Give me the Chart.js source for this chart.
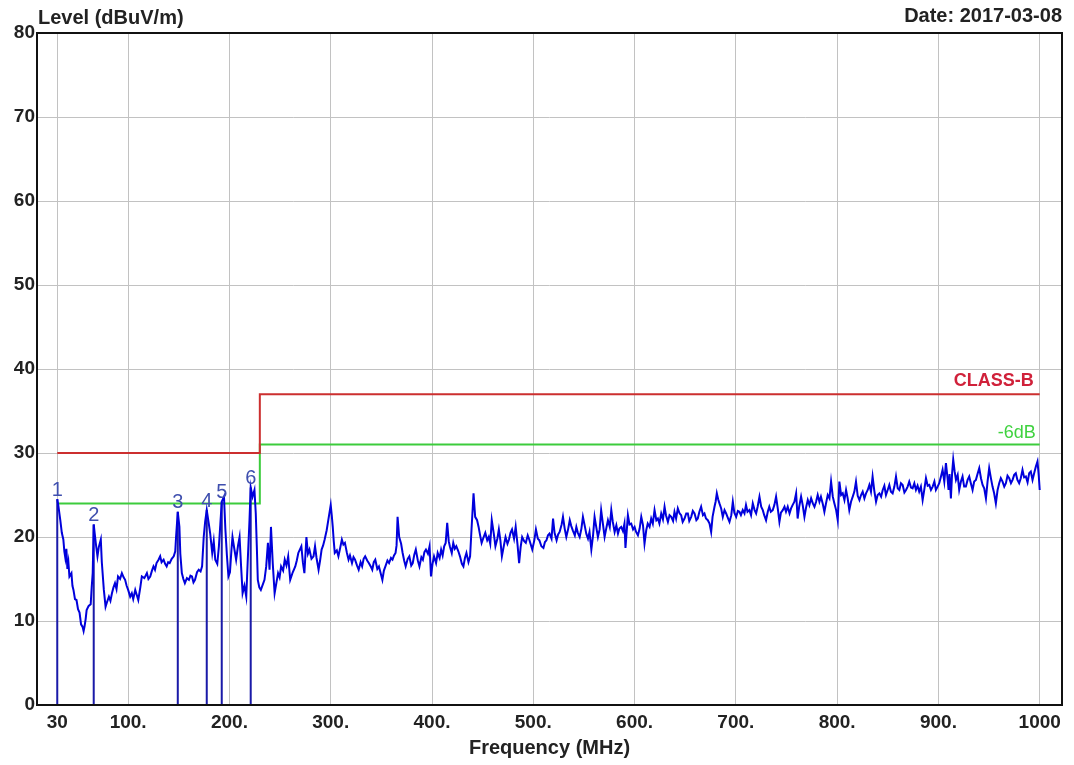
<!DOCTYPE html>
<html>
<head>
<meta charset="utf-8">
<script src="https://cdn.jsdelivr.net/npm/chart.js@4.4.1/dist/chart.umd.min.js"></script>
<style>
  html, body { margin: 0; padding: 0; background: #fff; }
  #wrap { width: 1074px; height: 765px; }
</style>
</head>
<body>
<div id="wrap"><canvas id="emiChart"></canvas></div>
<script>
  // scan trace (MHz / dBuV/m), 10 per row
  const traceFreq = [
    30, 31, 33, 34.5, 36, 37, 38, 39, 40, 41,
    42, 44, 45, 46, 47.5, 49, 50.5, 52, 53.5, 55,
    56, 57, 58, 59, 61, 63, 64, 65, 66, 67,
    68, 69.7, 71, 73, 74, 76, 77.7, 79, 81, 82.5,
    84, 85.5, 87, 88.5, 90, 92, 93.8, 95.5, 97, 98.5,
    100, 102, 103.6, 105, 107, 108.5, 110, 112, 113.5, 116,
    118.5, 120, 121.8, 123.5, 125, 126.5, 128, 130, 131.6, 133,
    135, 136.5, 138, 139.5, 141, 143, 145, 146.5, 147.3, 149,
    150.6, 151.5, 153, 154.5, 156, 158, 160, 161.5, 163, 164.5,
    166, 168, 169.7, 171.5, 173, 174.6, 176, 177.6, 179.6, 181,
    183, 184.5, 186, 188, 189.6, 191, 192.4, 194.6, 196, 197.5,
    199, 200.5, 202, 203, 204.8, 206.6, 208.5, 210, 211.5, 213,
    214.8, 216.6, 218, 219.8, 221, 222.8, 224.7, 226, 227, 228,
    229.5, 231, 232.8, 234.6, 236.3, 238, 239.6, 241, 242.8, 244.6,
    246.3, 248, 249.5, 251, 253, 254.6, 256.3, 258, 260, 262.5,
    265, 266.5, 268, 271, 272.5, 274, 276, 277.5, 279, 281,
    283, 284.5, 286, 288, 289.5, 291, 292.5, 294, 296, 297.6,
    300, 301, 302, 303, 304, 306, 307.6, 309.5, 311, 312.5,
    314, 316, 317.6, 319, 321, 322.5, 324, 326, 327.6, 329.5,
    331, 332.5, 334, 336, 337.6, 339.5, 341, 342.5, 344, 346,
    347.6, 349.5, 351, 352.5, 354, 356, 357.6, 359.5, 361, 362.5,
    364, 365, 366, 367.6, 369.5, 371, 372.5, 374, 376, 377.6,
    379.5, 381, 382.5, 384, 386, 387.6, 389.5, 391, 392.5, 394,
    396, 397.6, 399, 400.5, 402, 404, 405.6, 407.5, 409, 410.5,
    412, 413.5, 415, 416.5, 417.6, 419.5, 421, 422.5, 424, 426,
    427.6, 429.5, 431, 432.5, 434, 436, 437.6, 439, 441, 442.6,
    444.5, 446, 447.5, 449, 451, 452.6, 454.5, 456, 457.5, 459,
    461, 462.6, 464.5, 466, 467.5, 469, 471, 472.6, 474.5, 476,
    477.5, 479, 481, 482.6, 484.5, 486, 487.5, 489, 491, 492.6,
    494.5, 496, 497.5, 499, 501, 502.6, 504.5, 506, 508, 510,
    511.5, 513, 514.5, 516, 518, 519.5, 521, 523, 524.5, 526,
    528, 529.3, 531, 532.6, 534.5, 536, 537.5, 539, 541, 542.5,
    544, 545.8, 547.5, 549, 551, 552.3, 554, 555.5, 557.3, 559,
    560.5, 562, 563.8, 565.5, 567, 568.7, 570.4, 572, 573.7, 575.5,
    577, 578.5, 580.3, 582, 583.6, 585, 586.8, 588.5, 590, 591,
    593.4, 595, 596.7, 598.5, 600, 601.5, 603.3, 605, 606.6, 608.3,
    609.8, 611.5, 613, 614.8, 616.4, 618, 619.7, 621.5, 623, 624.5,
    626.3, 628, 629.6, 631, 632.9, 634.5, 636.2, 638, 639.4, 641,
    642.7, 644.5, 646, 647.5, 649.3, 651, 652.6, 654, 655.9, 657.5,
    659.2, 661, 662.4, 664, 665.7, 667.5, 669, 670.5, 672.3, 674,
    675.6, 677, 678.9, 680, 681.2, 682.5, 683.8, 685.5, 687.1, 688.8,
    690.4, 692, 693.7, 695.5, 697, 698.5, 700.3, 702, 703.5, 705,
    706.8, 708.5, 710, 711.5, 713.4, 715, 716.7, 718.5, 720, 721.5,
    723.3, 725, 726.6, 728, 729.8, 731.5, 733, 734.5, 736.4, 738,
    739.7, 741.5, 743, 744.5, 746.3, 748, 749.5, 751.2, 753, 754.5,
    756, 757.8, 759.5, 761, 762.5, 764.4, 766, 767.7, 769.3, 771,
    772.6, 774.3, 776, 777.6, 779.2, 780.8, 782.5, 784, 785.7, 787.4,
    789, 790.7, 792.4, 794, 795.7, 797.3, 799, 800.6, 802.2, 803.9,
    805.5, 807.2, 808.8, 810.4, 812, 813.7, 815.4, 817, 818.6, 820.3,
    822, 823.6, 825.2, 826.9, 828.5, 830.2, 831.8, 833.4, 835, 836.7,
    838.4, 840, 841.7, 843.4, 845, 846.6, 848.2, 849.9, 851.5, 853.1,
    854.8, 856.5, 858.1, 859.8, 861.4, 863, 864.7, 866.4, 868, 869.6,
    871.2, 872.9, 874.5, 876.2, 877.8, 879.4, 881, 882.7, 884.4, 886,
    887.7, 889.4, 891, 892.6, 894.3, 896, 897.5, 899.2, 900.8, 902.5,
    904.1, 905.8, 907.4, 909, 910, 911, 912.3, 913.5, 914.6, 916,
    917.3, 919, 920.5, 922.2, 923.8, 925.4, 927.1, 928.8, 930.4, 932,
    933.7, 935.3, 937, 938.6, 940.3, 942, 943.6, 945.2, 946.9, 948.5,
    950.1, 951.8, 953.4, 955, 956.7, 958.4, 960, 961.6, 963.3, 965,
    966.6, 968.2, 969.9, 971.6, 973.2, 974.8, 976.4, 978, 979.7, 981.3,
    983, 984.6, 986.3, 988, 989.6, 991.2, 992.9, 994.5, 996.2, 997.8,
    999, 1000
  ];
  const traceLevel = [
    24.5, 23.8, 22.0, 20.5, 19.7, 18.3, 17.5, 18.6, 16.2, 17.0,
    15.3, 15.7, 14.2, 13.7, 12.6, 12.5, 11.4, 11.0, 9.6, 9.3,
    8.8, 9.4, 10.2, 11.3, 11.8, 12.0, 14.0, 15.7, 21.5, 20.4,
    19.3, 17.7, 18.8, 19.7, 17.0, 13.7, 11.7, 12.2, 12.9, 12.4,
    13.3, 14.0, 14.5, 13.8, 15.3, 15.0, 15.7, 15.2, 14.9, 14.2,
    13.7, 12.9, 13.3, 12.6, 13.7, 13.1, 12.5, 14.0, 15.3, 15.1,
    15.7, 15.0, 15.3, 16.0, 16.5, 16.1, 16.9, 17.3, 17.7, 17.0,
    17.3, 16.8, 16.5, 17.0, 16.9, 17.4, 17.7, 18.3, 20.0, 23.0,
    21.2, 18.0, 15.7, 15.0, 14.5, 15.1, 14.9, 15.4, 15.3, 14.6,
    14.9, 15.8, 16.1, 15.9, 16.5, 20.0, 21.8, 23.2, 21.6, 20.4,
    18.1, 19.5, 17.3, 16.8, 18.9, 21.5, 24.2, 24.8, 20.9, 17.8,
    15.3, 15.8, 18.5, 20.0, 18.6, 17.3, 19.0, 20.0, 16.5, 13.3,
    14.2, 12.9, 17.0, 22.0, 25.9, 24.8, 25.6, 22.8, 19.0, 14.9,
    14.0, 13.7, 14.3, 14.9, 16.5, 19.3, 16.1, 21.2, 16.8, 13.3,
    14.5, 15.7, 15.2, 16.5, 16.0, 17.3, 16.6, 17.7, 14.9, 15.8,
    16.5, 17.2, 18.1, 18.9, 17.0, 15.7, 20.0, 18.0, 18.5, 17.4,
    17.7, 18.9, 17.5, 16.1, 17.2, 18.5, 19.0, 19.7, 20.8, 22.0,
    23.8, 22.6, 21.2, 19.5, 18.1, 18.4, 17.7, 18.8, 19.7, 19.1,
    19.3, 18.1, 17.3, 17.8, 16.9, 17.6, 17.3, 16.6, 16.1, 17.0,
    16.5, 17.4, 17.7, 17.2, 16.9, 16.5, 16.1, 17.0, 17.3, 16.2,
    16.5, 15.6, 14.9, 16.0, 16.5, 17.2, 16.9, 17.5, 17.3, 17.8,
    18.1, 19.0, 22.4, 20.0, 19.2, 18.1, 17.2, 16.5, 17.4, 17.7,
    16.6, 16.9, 17.9, 18.5, 17.2, 16.5, 17.6, 17.3, 18.2, 18.5,
    18.0, 18.9, 15.3, 16.8, 17.7, 16.9, 18.1, 17.5, 18.5, 17.8,
    18.9, 19.3, 21.7, 19.5, 18.9, 18.1, 19.3, 18.6, 18.9, 18.3,
    17.7, 16.8, 16.5, 17.5, 18.1, 17.0, 17.7, 20.9, 25.2, 22.4,
    22.0, 21.2, 20.2, 19.3, 20.0, 20.5, 19.6, 20.0, 19.2, 22.0,
    20.4, 18.9, 19.8, 20.9, 19.6, 17.7, 19.0, 20.0, 19.2, 19.7,
    20.5, 20.9, 19.8, 21.2, 19.0, 16.9, 18.8, 20.0, 19.5, 19.3,
    20.2, 19.7, 19.1, 18.5, 19.6, 20.9, 19.8, 19.6, 18.9, 18.7,
    19.4, 19.6, 20.2, 20.4, 19.8, 22.2, 20.5, 19.6, 20.3, 20.6,
    21.5, 22.4, 21.0, 20.0, 21.0, 22.0, 21.3, 20.8, 20.2, 21.2,
    20.5, 20.0, 21.0, 22.4, 21.2, 20.4, 19.8, 20.6, 18.5, 20.2,
    22.4, 21.3, 20.0, 20.9, 23.2, 21.6, 20.0, 21.0, 22.0, 21.2,
    23.2, 21.8, 20.6, 21.4, 20.4, 21.0, 21.2, 20.7, 21.6, 18.7,
    22.6, 21.5, 21.6, 20.9, 21.2, 20.6, 20.2, 21.0, 22.4, 21.4,
    19.2, 20.8, 21.6, 21.2, 22.2, 21.6, 23.2, 22.0, 22.2, 21.6,
    22.8, 22.1, 23.6, 22.6, 21.8, 22.6, 22.4, 21.9, 23.0, 22.2,
    23.4, 22.8, 22.6, 21.8, 22.2, 22.8, 22.8, 21.9, 22.4, 23.1,
    22.8, 22.0, 22.2, 23.0, 23.6, 22.6, 22.8, 22.2, 22.0, 21.6,
    20.6, 22.4, 23.6, 24.2, 25.2, 24.5, 24.0, 23.4, 22.4, 23.2,
    22.8, 22.3, 21.8, 22.6, 24.2, 22.9, 22.4, 23.1, 23.0, 22.6,
    23.2, 22.8, 23.8, 23.0, 23.2, 22.6, 24.0, 23.2, 22.8, 23.6,
    24.8, 23.6, 23.2, 22.6, 22.0, 23.0, 23.6, 23.0, 23.2, 23.8,
    24.8, 23.3, 21.8, 22.9, 23.2, 23.6, 23.0, 23.6, 22.8, 23.4,
    23.8, 24.2, 25.2, 22.2, 23.6, 24.8, 23.8, 22.4, 23.5, 24.4,
    23.8, 24.6, 24.0, 23.6, 24.2, 25.0, 24.2, 24.8, 24.0, 23.0,
    24.0, 25.0, 24.6, 26.6, 24.8, 24.0, 23.2, 22.0, 26.6, 25.0,
    25.2, 24.4, 25.6, 24.6, 23.2, 24.2, 24.8, 25.4, 26.6, 24.9,
    24.4, 25.0, 25.4, 24.6, 25.2, 25.6, 26.2, 25.4, 27.2, 25.5,
    24.2, 25.0, 25.2, 24.8, 25.6, 26.1, 25.0, 25.6, 26.2, 25.4,
    25.2, 26.0, 27.2, 25.8, 25.6, 26.4, 26.2, 25.3, 25.6, 26.0,
    26.6, 25.9, 25.8, 26.4, 25.6, 26.1, 25.4, 26.0, 24.4, 25.6,
    27.0, 26.1, 26.2, 25.6, 26.0, 26.6, 25.6, 26.0, 26.4, 27.2,
    28.0, 26.6, 28.8, 27.0, 25.6, 27.5, 24.6, 27.6, 29.2, 27.8,
    26.8, 27.4, 25.6, 26.6, 27.2, 26.0, 26.0, 26.8, 27.2, 26.4,
    25.6, 26.6, 26.8, 27.5, 28.2, 27.0, 26.2, 25.8, 24.6, 26.6,
    28.2, 27.0, 26.0, 25.2, 24.0, 25.6, 26.4, 27.0, 26.6, 26.0,
    26.4, 27.3, 27.0, 26.4, 26.8, 27.4, 27.6, 26.8, 26.4, 27.0,
    28.0, 27.1, 27.2, 26.5, 27.6, 27.8, 26.8, 27.6, 28.4, 29.0,
    27.4, 25.6
  ];

  // limit lines (step at 230 MHz)
  const limitFreq = [30, 230, 230, 1000];
  const classBLimit = [30, 30, 37, 37];
  const minus6Limit = [24, 24, 31, 31];

  // peak markers
  const markerFreq = [30, 66, 149, 177.6, 192.4, 221];
  const markerLevel = [24.5, 21.5, 23.0, 23.2, 24.2, 25.9];
  const markerLabel = ['1', '2', '3', '4', '5', '6'];

  // axes
  const xTicks = [30, 100, 200, 300, 400, 500, 600, 700, 800, 900, 1000];
  const xTickLabels = ['30', '100.', '200.', '300.', '400.', '500.', '600.', '700.', '800.', '900.', '1000'];
  const yTicks = [0, 10, 20, 30, 40, 50, 60, 70, 80];

  const FONT = "'Liberation Sans', Arial, sans-serif";

  const tracePoints = traceFreq.map((f, i) => ({ x: f, y: traceLevel[i] }));
  const markerLines = [];
  markerFreq.forEach((f, i) => {
    markerLines.push({ x: f, y: 0 }, { x: f, y: markerLevel[i] }, { x: f, y: null });
  });

  // texts + frame drawn on top of the chart
  const decorPlugin = {
    id: 'decor',
    afterDatasetsDraw(chart) {
      const { ctx, chartArea: a, scales: { x, y } } = chart;
      ctx.save();
      // frame
      ctx.strokeStyle = '#111';
      ctx.lineWidth = 2;
      ctx.strokeRect(a.left, a.top, a.right - a.left, a.bottom - a.top);

      // marker numbers
      ctx.font = '20px ' + FONT;
      ctx.fillStyle = '#3f4fae';
      ctx.textAlign = 'center';
      ctx.textBaseline = 'bottom';
      markerFreq.forEach((f, i) => {
        ctx.fillText(markerLabel[i], x.getPixelForValue(f), y.getPixelForValue(markerLevel[i]) + 1);
      });

      // limit labels
      ctx.textAlign = 'right';
      ctx.font = 'bold 18px ' + FONT;
      ctx.fillStyle = '#d0213a';
      ctx.fillText('CLASS-B', x.getPixelForValue(1000) - 6, y.getPixelForValue(classBLimit[3]) - 4);
      ctx.font = '18px ' + FONT;
      ctx.fillStyle = '#3fd23f';
      ctx.fillText('-6dB', x.getPixelForValue(1000) - 4, y.getPixelForValue(minus6Limit[3]) - 3);

      // header texts
      ctx.font = 'bold 20px ' + FONT;
      ctx.fillStyle = '#222';
      ctx.textBaseline = 'middle';
      ctx.textAlign = 'left';
      ctx.fillText('Level (dBuV/m)', a.left + 1, 18);
      ctx.textAlign = 'right';
      ctx.fillText('Date: 2017-03-08', a.right, 16);
      ctx.restore();
    }
  };

  const ctx = document.getElementById('emiChart').getContext('2d');
  new Chart(ctx, {
    type: 'line',
    data: {
      datasets: [
        {
          label: 'Scan',
          data: tracePoints,
          borderColor: '#0000dc',
          borderWidth: 2,
          pointRadius: 0,
          tension: 0
        },
        {
          label: 'Markers',
          data: markerLines,
          borderColor: '#1a1aa8',
          borderWidth: 2,
          pointRadius: 0,
          spanGaps: false
        },
        {
          label: 'CLASS-B',
          data: limitFreq.map((f, i) => ({ x: f, y: classBLimit[i] })),
          borderColor: '#cc2f2f',
          borderWidth: 2,
          pointRadius: 0
        },
        {
          label: '-6dB',
          data: limitFreq.map((f, i) => ({ x: f, y: minus6Limit[i] })),
          borderColor: '#3ccc3c',
          borderWidth: 2,
          pointRadius: 0
        }
      ]
    },
    options: {
      responsive: true,
      maintainAspectRatio: false,
      animation: false,
      layout: { padding: { top: 33, right: 12, left: 0, bottom: 0 } },
      plugins: {
        legend: { display: false },
        tooltip: { enabled: false }
      },
      scales: {
        x: {
          type: 'linear',
          min: 10,
          max: 1022,
          afterBuildTicks: (s) => { s.ticks = xTicks.map(v => ({ value: v })); },
          afterFit: (s) => { s.height = 60; },
          grid: { color: '#c2c2c2', lineWidth: 1, drawTicks: false },
          border: { display: false },
          ticks: {
            autoSkip: false,
            maxRotation: 0,
            padding: 6,
            color: '#222',
            font: { family: FONT, size: 19, weight: 'bold' },
            callback: (v, i) => xTickLabels[i]
          },
          title: {
            display: true,
            text: 'Frequency (MHz)',
            color: '#222',
            font: { family: FONT, size: 20, weight: 'bold' },
            padding: { top: 0, bottom: 5 }
          }
        },
        y: {
          min: 0,
          max: 80,
          afterBuildTicks: (s) => { s.ticks = yTicks.map(v => ({ value: v })); },
          afterFit: (s) => { s.width = 37; },
          grid: { color: '#c2c2c2', lineWidth: 1, drawTicks: false },
          border: { display: false },
          ticks: {
            padding: 2,
            color: '#222',
            font: { family: FONT, size: 19, weight: 'bold' }
          }
        }
      }
    },
    plugins: [decorPlugin]
  });
</script>
</body>
</html>
